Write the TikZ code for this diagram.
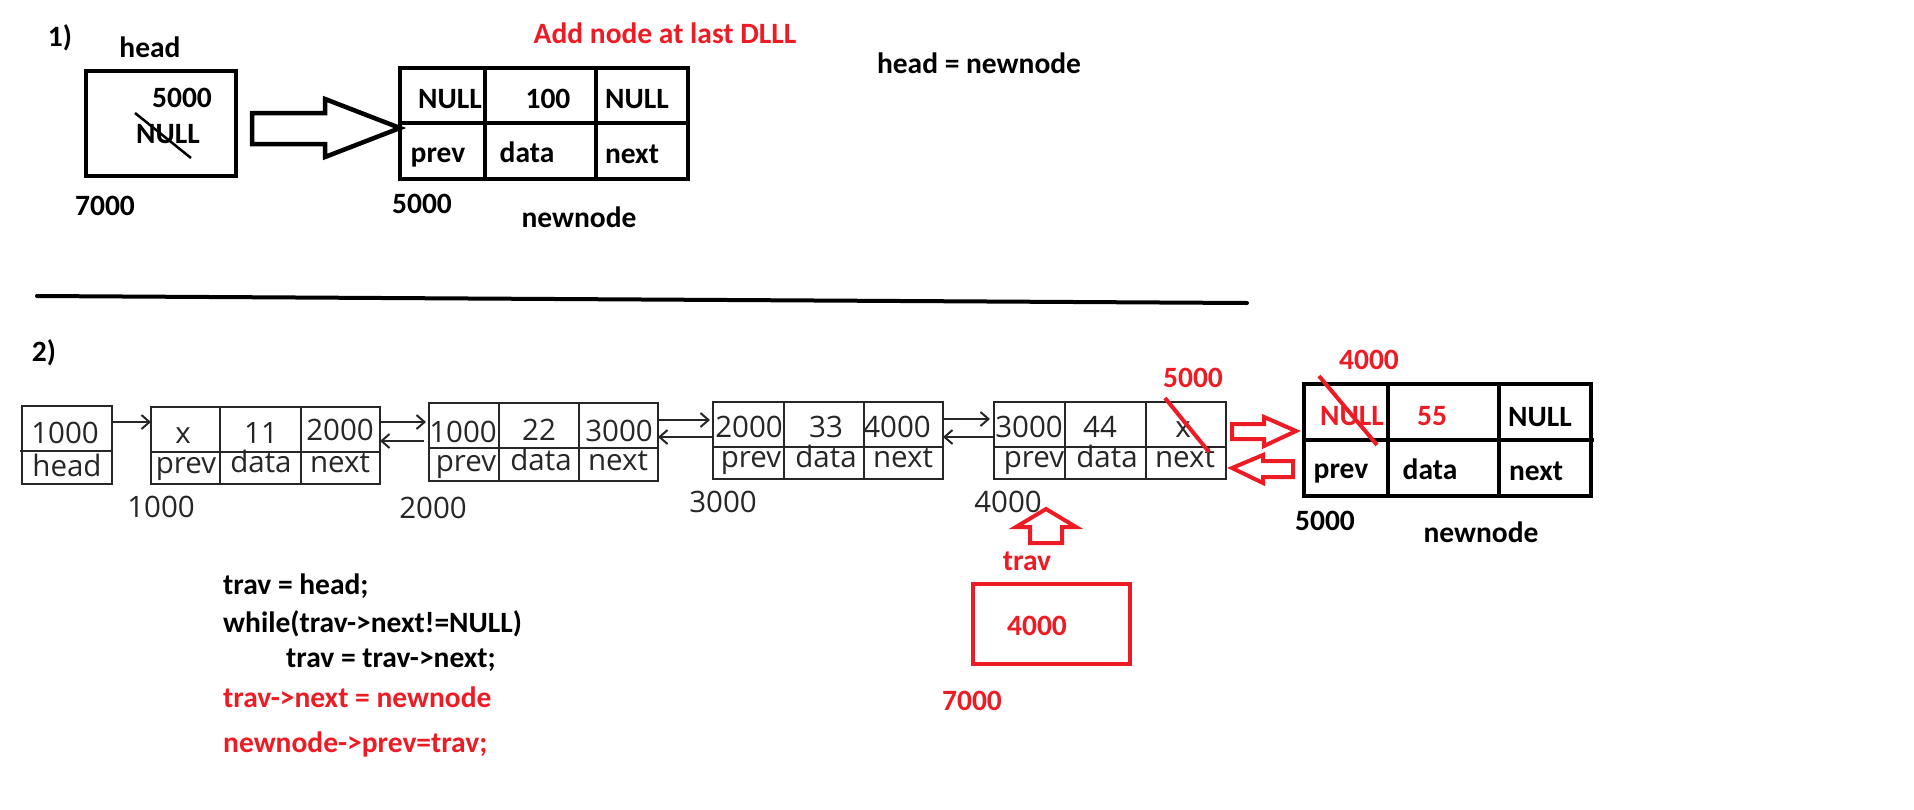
\documentclass[tikz,border=0pt]{standalone}
\usepackage{fontspec}
\setmainfont{Carlito}
\newfontfamily\listfont{Open Sans}
\usepackage{tikz}
\usetikzlibrary{arrows.meta}
\definecolor{paintred}{RGB}{237,28,36}

\begin{document}
\begin{tikzpicture}[x=1pt, y=-1pt,
    txt/.style={anchor=base, inner sep=0pt, font=\fontsize{29.5}{34}\selectfont\bfseries},
    ltxt/.style={anchor=base, inner sep=0pt, text=black!85, font=\listfont\fontsize{29.5}{34}\selectfont},
    bigbox/.style={draw, line width=4.5pt, inner sep=0pt, outer sep=0pt},
    lbox/.style={draw=black!85, line width=2pt, inner sep=0pt, outer sep=0pt},
    larrow/.style={draw=black!85, line width=2pt, -{Straight Barb[length=8pt,width=14pt]}},
    redline/.style={paintred, line width=4pt, line join=miter}]
    \useasboundingbox (0,0) rectangle (1914,809);

    % 1) ---------------------------------------------------------
    \node[txt] (one) at (60,46) {1)};
    \node[txt] (headlbl) at (150,57) {head};
    \node[bigbox, minimum width=150pt, minimum height=105pt] (headbox) at (161,123.5) {};
    \node[txt] (headval) at (182,107) {5000};
    \node[txt] (headnull) at (168,143) {NULL};
    \draw[line width=2.5pt] (135,113) -- (191,158);
    \node[txt] (headaddr) at (105,215) {7000};

    \node[bigbox, minimum width=288pt, minimum height=111pt] (newbox) at (544,123.5) {};
    \draw[line width=4.5pt] (400,123) -- (690,123);
    \draw[line width=4.5pt] (485,68) -- (485,179);
    \draw[line width=4.5pt] (596,68) -- (596,181);
    \node[txt] (nbprev) at (450,108) {NULL};
    \node[txt] (nbdata) at (548,108) {100};
    \node[txt] (nbnext) at (637,108) {NULL};
    \node[txt] at (438,162) {prev};
    \node[txt] at (527,162) {data};
    \node[txt] at (632,163) {next};
    \node[txt] (nbaddr) at (422,213) {5000};
    \node[txt] (nbname) at (579,227) {newnode};

    % hollow arrow head -> newnode
    \coordinate (bigtip) at (newbox.west |- 0,128);
    \draw[line width=4.5pt, line join=miter] (252,113) -- (325,113) -- (325,99) -- (bigtip)
        -- (325,157) -- (325,144) -- (252,144) -- cycle;

    \node[txt, text=paintred] (title) at (665,43) {Add node at last DLLL};
    \node[txt] (assign) at (979,73) {head = newnode};

    \draw[line width=4pt, line cap=round] (37,296) -- (1247,303);

    % 2) ---------------------------------------------------------
    \node[txt] (two) at (44,361) {2)};

    \node[lbox, minimum width=90pt, minimum height=78pt] (hd) at (67,445) {};
    \draw[lbox] (20,451) -- (112,451);
    \node[ltxt] at (65,443) {1000};
    \node[ltxt] at (67,476) {head};

    \node[lbox, minimum width=229pt, minimum height=77pt] (n1) at (265.5,445.5) {};
    \draw[lbox] (151,452) -- (380,452) (220,407) -- (220,484) (301,407) -- (301,484);
    \node[ltxt] at (183,443) {x};
    \node[ltxt] at (261,443) {11};
    \node[ltxt] at (340,440) {2000};
    \node[ltxt] at (186,473) {prev};
    \node[ltxt] at (261,472) {data};
    \node[ltxt] at (340,472) {next};
    \node[ltxt] at (161,517) {1000};

    \node[lbox, minimum width=229pt, minimum height=78pt] (n2) at (543.5,442) {};
    \draw[lbox] (429,448) -- (658,448) (499,403) -- (499,481) (579,403) -- (579,481);
    \node[ltxt] at (463,442) {1000};
    \node[ltxt] at (539,440) {22};
    \node[ltxt] at (619,441) {3000};
    \node[ltxt] at (466,471) {prev};
    \node[ltxt] at (541,470) {data};
    \node[ltxt] at (618,470) {next};
    \node[ltxt] at (433,518) {2000};

    \node[lbox, minimum width=230pt, minimum height=77pt] (n3) at (828,440.5) {};
    \draw[lbox] (713,447) -- (943,447) (784,402) -- (784,479) (864,402) -- (864,479);
    \node[ltxt] at (749,437) {2000};
    \node[ltxt] at (826,437) {33};
    \node[ltxt] at (897,437) {4000};
    \node[ltxt] at (751,467) {prev};
    \node[ltxt] at (826,467) {data};
    \node[ltxt] at (903,467) {next};
    \node[ltxt] at (723,512) {3000};

    \node[lbox, minimum width=232pt, minimum height=77pt] (n4) at (1110,440.5) {};
    \draw[lbox] (994,447) -- (1226,447) (1065,402) -- (1065,479) (1146,402) -- (1146,479);
    \node[ltxt] at (1029,437) {3000};
    \node[ltxt] at (1100,437) {44};
    \node[ltxt] at (1183,437) {x};
    \node[ltxt] at (1034,467) {prev};
    \node[ltxt] at (1107,467) {data};
    \node[ltxt] at (1185,467) {next};
    \node[ltxt] (n4addr) at (1008,512) {4000};

    % links
    \draw[larrow] (hd.east |- 0,422) -- (n1.west |- 0,422);
    \draw[larrow, shorten >=3pt] (n1.east |- 0,422) -- (n2.west |- 0,422);
    \draw[larrow, shorten <=5pt] (n2.west |- 0,441) -- (n1.east |- 0,441);
    \draw[larrow, shorten >=3pt] (n2.east |- 0,420) -- (n3.west |- 0,420);
    \draw[larrow] (n3.west |- 0,437) -- (n2.east |- 0,437);
    \draw[larrow, shorten >=4pt] (n3.east |- 0,419) -- (n4.west |- 0,419);
    \draw[larrow] (n4.west |- 0,437) -- (n3.east |- 0,437);

    % new node
    \node[bigbox, minimum width=287pt, minimum height=112pt] (nn) at (1447.5,440) {};
    \draw[line width=4.5pt] (1304,440) -- (1594,440) (1388,384) -- (1388,496) (1499,384) -- (1499,498);
    \node[txt, text=paintred] (nnprev) at (1352,425) {NULL};
    \node[txt, text=paintred] (nndata) at (1432,425) {55};
    \node[txt] (nnnext) at (1540,426) {NULL};
    \node[txt] at (1341,478) {prev};
    \node[txt] at (1430,479) {data};
    \node[txt] at (1536,480) {next};
    \node[txt] (nnaddr) at (1325,530) {5000};
    \node[txt] (nnname) at (1481,542) {newnode};

    % red edits
    \node[txt, text=paintred] (newnext) at (1193,387) {5000};
    \draw[redline] (1165,398) -- (1209,452);
    \node[txt, text=paintred] (newprev) at (1369,369) {4000};
    \draw[redline] (1319,376) -- (1377,445);
    \draw[redline] (1232,424) -- (1264,424) -- (1264,417) -- (1296,431) -- (1264,446)
        -- (1264,439) -- (1232,439) -- cycle;
    \draw[redline] (1232,468) -- (1263,455) -- (1263,461) -- (1293,461) -- (1293,477)
        -- (1263,477) -- (1263,483) -- cycle;

    % trav
    \draw[redline] (1046,509) -- (1076,527) -- (1062,527) -- (1062,543) -- (1030,543)
        -- (1030,527) -- (1016,527) -- cycle;
    \node[txt, text=paintred] (travlbl) at (1027,570) {trav};
    \node[draw=paintred, line width=4pt, minimum width=157pt, minimum height=80pt, inner sep=0pt] (trav) at (1051.5,624) {};
    \node[txt, text=paintred] (travval) at (1037,635) {4000};
    \node[txt, text=paintred] (travaddr) at (972,710) {7000};

    % code
    \node[txt, anchor=base west] (c1) at (223,594) {trav = head;};
    \node[txt, anchor=base west] (c2) at (223,632) {while(trav->next!=NULL)};
    \node[txt, anchor=base west] (c3) at (286,667) {trav = trav->next;};
    \node[txt, anchor=base west, text=paintred] (c4) at (223,707) {trav->next = newnode};
    \node[txt, anchor=base west, text=paintred] (c5) at (223,752) {newnode->prev=trav;};
\end{tikzpicture}
\end{document}
